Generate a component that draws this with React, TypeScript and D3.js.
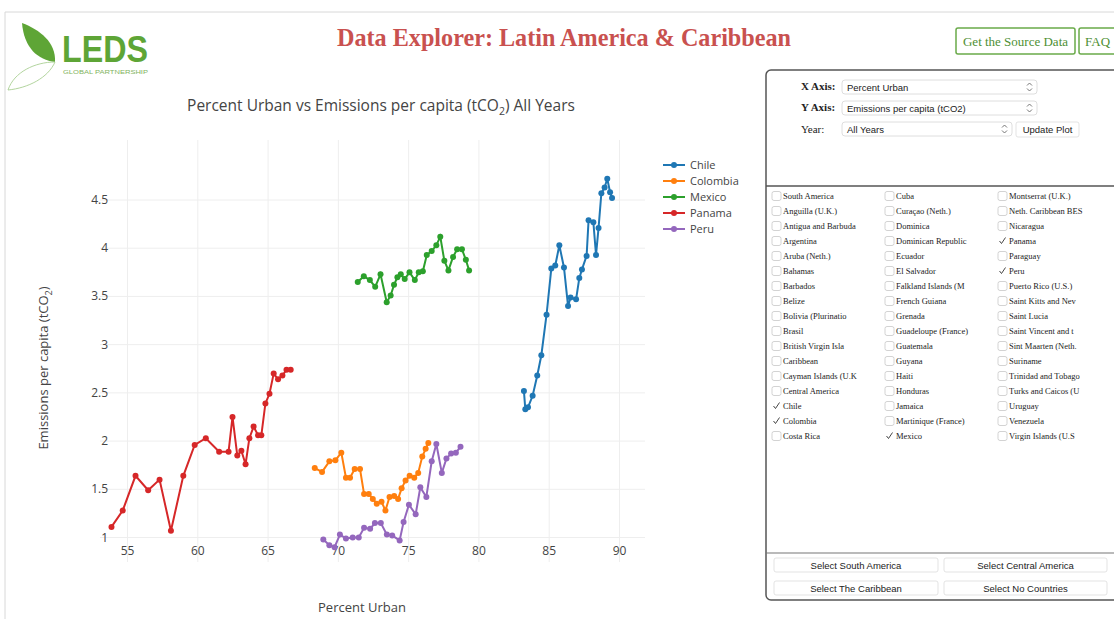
import React from "react";
import * as d3 from "d3";

const countries = ["Chile", "Colombia", "Mexico", "Panama", "Peru"];
const colors = ["#1f77b4", "#ff7f0e", "#2ca02c", "#d62728", "#9467bd"];

const chileX = [83.2, 83.3, 83.49, 83.82, 84.15, 84.44, 84.81, 85.15, 85.43, 85.72, 86.05, 86.34, 86.52, 86.91, 87.14, 87.33, 87.66, 87.8, 88.14, 88.33, 88.51, 88.71, 88.94, 89.13, 89.33, 89.47];
const chileY = [2.52, 2.33, 2.35, 2.47, 2.68, 2.89, 3.31, 3.79, 3.82, 4.03, 3.8, 3.4, 3.49, 3.47, 3.69, 3.78, 3.92, 4.29, 4.27, 3.93, 4.21, 4.57, 4.63, 4.72, 4.58, 4.52];
const colombiaX = [68.32, 68.84, 69.36, 69.79, 70.21, 70.54, 70.83, 71.16, 71.54, 71.83, 72.16, 72.45, 72.73, 73.07, 73.35, 73.64, 73.97, 74.25, 74.5, 74.78, 75.07, 75.4, 75.68, 75.97, 76.21, 76.4];
const colombiaY = [1.72, 1.68, 1.79, 1.8, 1.88, 1.62, 1.62, 1.71, 1.71, 1.45, 1.45, 1.4, 1.35, 1.37, 1.28, 1.42, 1.43, 1.4, 1.51, 1.59, 1.64, 1.62, 1.67, 1.84, 1.92, 1.98];
const mexicoX = [71.38, 71.81, 72.24, 72.62, 73.0, 73.44, 73.72, 73.96, 74.2, 74.44, 74.72, 75.06, 75.44, 75.72, 76.01, 76.29, 76.64, 76.97, 77.25, 77.54, 77.83, 78.16, 78.45, 78.79, 79.07, 79.3];
const mexicoY = [3.65, 3.71, 3.67, 3.6, 3.73, 3.44, 3.51, 3.62, 3.7, 3.73, 3.68, 3.75, 3.67, 3.75, 3.76, 3.93, 3.97, 4.03, 4.12, 3.87, 3.77, 3.91, 3.99, 3.99, 3.88, 3.77];
const panamaX = [53.86, 54.66, 55.57, 56.47, 57.28, 58.09, 58.97, 59.78, 60.57, 61.52, 62.19, 62.47, 62.81, 63.1, 63.4, 63.67, 63.97, 64.29, 64.52, 64.81, 65.1, 65.4, 65.71, 66.02, 66.31, 66.61];
const panamaY = [1.11, 1.28, 1.64, 1.49, 1.6, 1.07, 1.64, 1.96, 2.03, 1.89, 1.89, 2.25, 1.85, 1.9, 1.76, 2.03, 2.15, 2.06, 2.06, 2.39, 2.49, 2.7, 2.64, 2.68, 2.74, 2.74];
const peruX = [68.93, 69.36, 69.73, 70.11, 70.54, 71.02, 71.45, 71.83, 72.26, 72.6, 73.02, 73.45, 73.83, 74.36, 74.64, 75.02, 75.5, 75.83, 76.26, 76.64, 76.97, 77.36, 77.69, 78.02, 78.36, 78.69];
const peruY = [0.98, 0.92, 0.9, 1.03, 0.99, 1.0, 1.0, 1.1, 1.09, 1.15, 1.15, 1.03, 1.02, 0.97, 1.16, 1.34, 1.24, 1.52, 1.42, 1.79, 1.97, 1.67, 1.82, 1.87, 1.88, 1.94];

const xTicks = [55, 60, 65, 70, 75, 80, 85, 90];
const yTicks = [1, 1.5, 2, 2.5, 3, 3.5, 4, 4.5];

const col1 = ["South America", "Anguilla (U.K.)", "Antigua and Barbuda", "Argentina", "Aruba (Neth.)", "Bahamas", "Barbados", "Belize", "Bolivia (Plurinatio", "Brasil", "British Virgin Isla", "Caribbean", "Cayman Islands (U.K", "Central America", "Chile", "Colombia", "Costa Rica"];
const col2 = ["Cuba", "Curaçao (Neth.)", "Dominica", "Dominican Republic", "Ecuador", "El Salvador", "Falkland Islands (M", "French Guiana", "Grenada", "Guadeloupe (France)", "Guatemala", "Guyana", "Haiti", "Honduras", "Jamaica", "Martinique (France)", "Mexico"];
const col3 = ["Montserrat (U.K.)", "Neth. Caribbean BES", "Nicaragua", "Panama", "Paraguay", "Peru", "Puerto Rico (U.S.)", "Saint Kitts and Nev", "Saint Lucia", "Saint Vincent and t", "Sint Maarten (Neth.", "Suriname", "Trinidad and Tobago", "Turks and Caicos (U", "Uruguay", "Venezuela", "Virgin Islands (U.S"];
const checked = ["Chile", "Colombia", "Mexico", "Panama", "Peru"];

const seriesX = [chileX, colombiaX, mexicoX, panamaX, peruX];
const seriesY = [chileY, colombiaY, mexicoY, panamaY, peruY];

const PLOT = { left: 100, right: 645, top: 140, bottom: 562 };
const sans = "'Open Sans', 'DejaVu Sans', sans-serif";
const ui = "'Liberation Sans', Arial, sans-serif";
const serif = "'Liberation Serif', 'Times New Roman', serif";

function SelectBox({ x, y, w, label }: { x: number; y: number; w: number; label: string }) {
  return (
    <g>
      <rect x={x} y={y} width={w} height={14} rx={3} fill="#fff" stroke="#d6d6d6" strokeWidth={0.8} />
      <text x={x + 5} y={y + 10.5} fontFamily={ui} fontSize={9.5} fill="#222">{label}</text>
      <path d={`M${x + w - 10},${y + 5.5} l2.5,-2.5 l2.5,2.5 M${x + w - 10},${y + 8.5} l2.5,2.5 l2.5,-2.5`} fill="none" stroke="#666" strokeWidth={0.9} />
    </g>
  );
}

function Btn({ x, y, w, h, label }: { x: number; y: number; w: number; h: number; label: string }) {
  return (
    <g>
      <rect x={x} y={y} width={w} height={h} rx={2} fill="#fff" stroke="#dcdcdc" strokeWidth={0.8} />
      <text x={x + w / 2} y={y + h / 2 + 3.5} textAnchor="middle" fontFamily={ui} fontSize={9.5} fill="#222">{label}</text>
    </g>
  );
}

export default function App() {
  const x = d3.scaleLinear().domain([55, 90]).range([127.5, 619.5]);
  const y = d3.scaleLinear().domain([1, 4.5]).range([537.5, 200]);
  const line = d3.line<[number, number]>().x((d) => x(d[0])).y((d) => y(d[1]));

  const cols = [col1, col2, col3];
  const colX = [772, 885, 998];

  return (
    <div style={{ position: "absolute", left: 0, top: 0 }}>
      <svg width={1114} height={619} style={{ display: "block", background: "#fff" }}>
        {/* page border */}
        <path d="M5,619 L5,12 L1114,12" fill="none" stroke="#d8d8d8" strokeWidth={1} />

        {/* logo */}
        <path d="M22,23 C40,30 56,42 55,62 C38,60 24,48 22,23 Z" fill="#5ea536" />
        <path d="M55,62 C35,62 14,72 8,90 M55,62 C48,78 28,88 8,90" fill="none" stroke="#a9cf93" strokeWidth={0.9} />
        <text x={62} y={62} fontFamily={ui} fontWeight="bold" fontSize={37} fill="#5ea536" textLength={86} lengthAdjust="spacingAndGlyphs">LEDS</text>
        <text x={63} y={73.5} fontFamily={ui} fontSize={6} fill="#7fb35e" textLength={85} lengthAdjust="spacingAndGlyphs">GLOBAL PARTNERSHIP</text>

        {/* header */}
        <text x={564} y={46} textAnchor="middle" fontFamily={serif} fontWeight="bold" fontSize={25} fill="#c9514f" textLength={454} lengthAdjust="spacingAndGlyphs">Data Explorer: Latin America &amp; Caribbean</text>
        <rect x={956} y={28} width={119} height={26} rx={2} fill="#fff" stroke="#6aaa4a" strokeWidth={1.5} />
        <text x={1015.5} y={45.5} textAnchor="middle" fontFamily={serif} fontSize={13} fill="#4e8f33">Get the Source Data</text>
        <rect x={1079} y={28} width={40} height={26} rx={2} fill="#fff" stroke="#6aaa4a" strokeWidth={1.5} />
        <text x={1085} y={45.5} fontFamily={serif} fontSize={13} fill="#4e8f33">FAQ</text>

        {/* chart title */}
        <text x={381} y={111} textAnchor="middle" fontFamily={sans} fontSize={15.5} fill="#444">
          Percent Urban vs Emissions per capita (tCO<tspan fontSize={10.5} dy={4}>2</tspan><tspan dy={-4}>) All Years</tspan>
        </text>

        {/* grid */}
        {xTicks.map((t) => (
          <line key={"gx" + t} x1={x(t)} x2={x(t)} y1={PLOT.top} y2={PLOT.bottom} stroke="#eee" strokeWidth={1} />
        ))}
        {yTicks.map((t) => (
          <line key={"gy" + t} x1={PLOT.left} x2={PLOT.right} y1={y(t)} y2={y(t)} stroke="#eee" strokeWidth={1} />
        ))}

        {/* tick labels */}
        {xTicks.map((t) => (
          <text key={"tx" + t} x={x(t)} y={555} textAnchor="middle" fontFamily={sans} fontSize={12} fill="#444">{t}</text>
        ))}
        {yTicks.map((t) => (
          <text key={"ty" + t} x={108} y={y(t) + 4} textAnchor="end" fontFamily={sans} fontSize={12} fill="#444">{t}</text>
        ))}

        {/* axis titles */}
        <text x={362} y={612} textAnchor="middle" fontFamily={sans} fontSize={13} fill="#444">Percent Urban</text>
        <text transform="translate(48,368) rotate(-90)" textAnchor="middle" fontFamily={sans} fontSize={13} fill="#444">
          Emissions per capita (tCO<tspan fontSize={9} dy={4}>2</tspan><tspan dy={-4}>)</tspan>
        </text>

        {/* series */}
        {countries.map((c, i) => {
          const pts: [number, number][] = seriesX[i].map((v, j) => [v, seriesY[i][j]]);
          return (
            <g key={c}>
              <path d={line(pts) || ""} fill="none" stroke={colors[i]} strokeWidth={2} />
              {pts.map((p, j) => (
                <circle key={j} cx={x(p[0])} cy={y(p[1])} r={3} fill={colors[i]} />
              ))}
            </g>
          );
        })}

        {/* legend */}
        {countries.map((c, i) => {
          const ly = 165 + i * 16;
          return (
            <g key={"lg" + c}>
              <line x1={663} x2={685} y1={ly} y2={ly} stroke={colors[i]} strokeWidth={2} />
              <circle cx={674} cy={ly} r={3} fill={colors[i]} />
              <text x={690} y={ly + 4} fontFamily={sans} fontSize={11} fill="#444">{c}</text>
            </g>
          );
        })}

        {/* control panel */}
        <rect x={766} y={70} width={360} height={530} rx={5} fill="#fff" stroke="#555" strokeWidth={1.5} />
        <line x1={766} x2={1114} y1={186} y2={186} stroke="#555" strokeWidth={1.5} />
        <line x1={766} x2={1114} y1={553} y2={553} stroke="#777" strokeWidth={1.2} />

        <text x={801} y={90} fontFamily={serif} fontWeight="bold" fontSize={11} fill="#222">X Axis:</text>
        <SelectBox x={842} y={80} w={195} label="Percent Urban" />
        <text x={801} y={111} fontFamily={serif} fontWeight="bold" fontSize={11} fill="#222">Y Axis:</text>
        <SelectBox x={842} y={101} w={195} label="Emissions per capita (tCO2)" />
        <text x={801} y={133} fontFamily={serif} fontSize={11} fill="#222">Year:</text>
        <SelectBox x={842} y={122} w={170} label="All Years" />
        <Btn x={1016} y={122} w={63} h={15} label="Update Plot" />

        {cols.map((col, ci) =>
          col.map((name, ri) => {
            const cy = 196 + ri * 15;
            const isChecked = checked.includes(name);
            return (
              <g key={ci + "-" + ri}>
                {isChecked ? (
                  <path d={`M${colX[ci] + 1.5},${cy} l2,2.5 l4,-6`} fill="none" stroke="#333" strokeWidth={0.9} />
                ) : (
                  <rect x={colX[ci]} y={cy - 4.5} width={9} height={9} rx={2} fill="#fff" stroke="#c8c8c8" strokeWidth={0.8} />
                )}
                <text x={colX[ci] + 11} y={cy + 3} fontFamily={serif} fontSize={8.5} fill="#222">{name}</text>
              </g>
            );
          })
        )}

        <Btn x={774} y={558} w={164} h={14} label="Select South America" />
        <Btn x={944} y={558} w={163} h={14} label="Select Central America" />
        <Btn x={774} y={581} w={164} h={14} label="Select The Caribbean" />
        <Btn x={944} y={581} w={163} h={14} label="Select No Countries" />
      </svg>
    </div>
  );
}
